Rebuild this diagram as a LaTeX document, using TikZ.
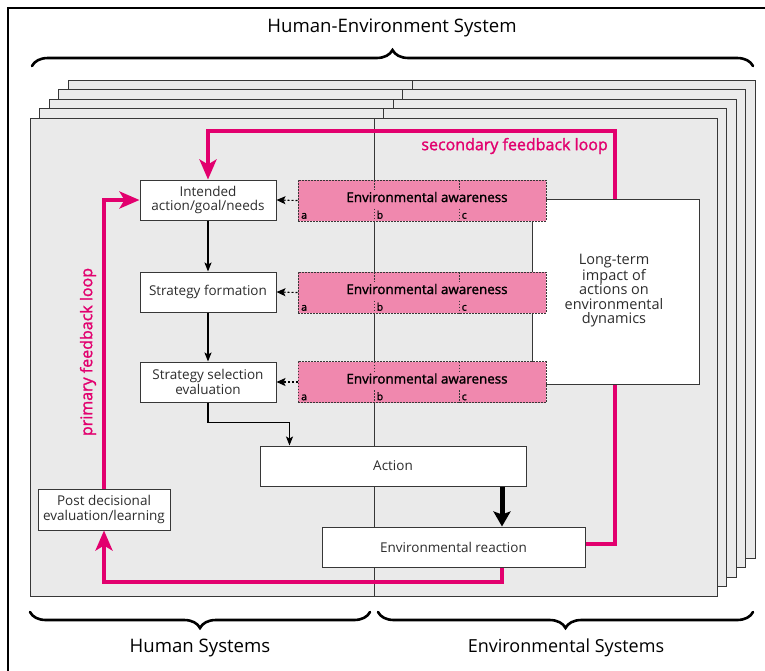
\documentclass[tikz,border=0pt]{standalone}
\usepackage{fontspec}
\setmainfont{Open Sans}
\newfontfamily\semib[FakeBold=1.5]{Open Sans}
\usetikzlibrary{arrows.meta,decorations.pathreplacing,calc}
\definecolor{pagegray}{RGB}{234,234,234}
\definecolor{edgegray}{RGB}{55,55,55}
\definecolor{loopred}{RGB}{226,0,110}
\definecolor{awpink}{RGB}{240,136,174}
\definecolor{txtgray}{RGB}{45,45,45}
\begin{document}
\begin{tikzpicture}[x=1pt,y=-1pt,
  pagebox/.style={draw=edgegray, fill=pagegray, line width=1pt},
  divline/.style={draw=edgegray, line width=0.9pt},
  nodebox/.style={draw=edgegray, fill=white, line width=1pt, inner sep=0pt, align=center,
    text=txtgray, font=\fontsize{13.5}{14.5}\selectfont},
  awarebox/.style={draw=edgegray, fill=awpink, dash pattern=on 1.6pt off 1.4pt, line width=1pt,
    minimum width=248pt, minimum height=41pt, inner sep=0pt},
  awaretext/.style={font=\semib\fontsize{13.4}{14}\selectfont, text=black, inner sep=0pt},
  abc/.style={font=\semib\fontsize{10.5}{10}\selectfont, text=black, inner sep=0pt, anchor=south west},
  abcdiv/.style={draw=edgegray, line width=0.9pt, dash pattern=on 1.6pt off 1.4pt},
  flow/.style={-{Stealth[length=9pt,width=7pt,inset=2pt]}, line width=1.1pt, black},
  dflow/.style={-{Stealth[length=9pt,width=8pt,inset=2pt]}, line width=1.1pt, black, dash pattern=on 2pt off 2pt},
  thickflow/.style={-{Stealth[length=15pt,width=17pt,inset=3pt]}, line width=5pt, black},
  fbline/.style={line width=4pt, loopred},
  fbarrow/.style={fbline, -{Stealth[length=20pt,width=17pt,inset=5pt]}},
  fblabel/.style={font=\semib\fontsize{16}{17}\selectfont, text=loopred, inner sep=0pt},
  bigtext/.style={font=\fontsize{18.6}{20}\selectfont, text=black, inner sep=0pt},
  brc/.style={decorate, decoration={brace, amplitude=16pt}, line width=2.6pt, line cap=round}
]
\useasboundingbox (0,0) rectangle (765,670);
\fill[white] (0,0) rectangle (765,670);
% outer frame
\draw[line width=2.8pt] (8,8) rectangle (820,720);
% title and braces
\node[bigtext] (title) at (392,28) {Human-Environment System};
\draw[brc] (32,66) -- (753,66);
\draw[brc] (370,612) -- (30,612);
\draw[brc] (753,612) -- (378,612);
\node[bigtext] (hs) at (200,648) {Human Systems};
\node[bigtext, font=\fontsize{18}{20}\selectfont] (es) at (566,648) {Environmental Systems};
% stacked pages
\foreach \i in {4,3,2,1,0}{
  \pgfmathsetmacro{\d}{9.5*\i}
  \draw[pagebox] (30+\d,118-\d) rectangle (717+\d,596-\d);
  \draw[divline] (374+\d,118-\d) -- (374+\d,596-\d);
}
% human nodes
\node[nodebox, minimum width=136pt, minimum height=40pt] (intended) at (208,200) {Intended\\action/goal/needs};
\node[nodebox, minimum width=136pt, minimum height=40pt] (strat) at (208,292) {Strategy formation};
\node[nodebox, minimum width=136pt, minimum height=40pt] (select) at (208,382) {Strategy selection\\evaluation};
\node[nodebox, minimum width=266pt, minimum height=40pt] (action) at (393,466) {Action};
\node[nodebox, minimum width=263pt, minimum height=40pt] (envreact) at (453.5,547) {Environmental reaction};
\node[nodebox, minimum width=132pt, minimum height=41pt] (post) at (104,509.5) {Post decisional\\evaluation/learning};
\coordinate (tapx) at (502,0);
% secondary feedback loop (behind long-term box)
\draw[fbarrow] ([yshift=3pt]envreact.east) -| (615,131) -| (intended.north);
\node[fblabel, anchor=east] (seclab) at (608,146) {secondary feedback loop};
% long-term box
\node[nodebox, minimum width=167pt, minimum height=185pt] (longterm) at (615.5,291.5) {};
\node[font=\fontsize{14.5}{14.5}\selectfont, text=txtgray, align=center, inner sep=0pt] (lttext) at (614,291) {Long-term\\impact of\\actions on\\environmental\\dynamics};
% awareness boxes
\foreach \n/\yc/\tgt in {1/200.5/intended, 2/292.5/strat, 3/382/select}{
  \node[awarebox] (aw\n) at (422,\yc) {};
  \node[awaretext] at (427,\yc-3.5) {Environmental awareness};
  \foreach \xd in {374,459}{
    \draw[abcdiv] (\xd,\yc-20.5) -- (\xd,\yc-11);
    \draw[abcdiv] (\xd,\yc+8) -- (\xd,\yc+20.5);
  }
  \node[abc] at (301,\yc+18.5) {a};
  \node[abc] at (376.5,\yc+18.5) {b};
  \node[abc] at (461.5,\yc+18.5) {c};
  \draw[dflow] (aw\n.west) -- (\tgt.east);
}
% black flow arrows
\draw[flow] (intended.south) -- (strat.north);
\draw[flow] (strat.south) -- (select.north);
\draw[flow] (select.south) -- ++(0,20) -| ([xshift=30pt]action.north west);
\draw[thickflow] (action.south -| tapx) -- (envreact.north -| tapx);
% primary feedback loop
\draw[fbarrow] (envreact.south -| tapx) |- (104,582) -- (post.south);
\draw[fbarrow] (post.north) |- (intended.west);
\node[fblabel, rotate=90] (primlab) at (88,352) {primary feedback loop};
\end{tikzpicture}
\end{document}
